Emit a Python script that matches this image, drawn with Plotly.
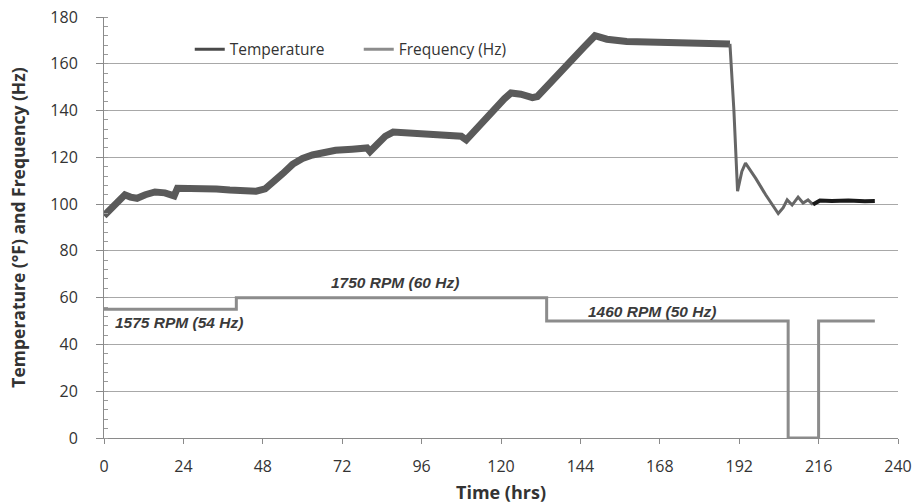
import plotly.graph_objects as go

# ---- data ----
temp_time = [0, 1.5, 3, 4.5, 6.3, 8, 10, 12.5, 15.4, 18.4, 21.2, 22.2, 26, 30, 34, 38,
             42.6, 46, 48.7, 51, 54, 57, 60, 63, 66, 70, 75, 79.5, 80.4, 82, 85, 87.4,
             92, 97, 102, 106, 108, 109.5, 113, 117, 121, 123, 126, 129.5, 131, 135,
             140, 145, 148.4, 152, 158, 165, 172, 180, 186, 189.2, 190.4, 191.5,
             192.8, 193.9, 197, 200, 203.8, 205.3, 206.5, 208, 209.8, 211.3, 212.8,
             214.3, 216.4, 220, 225, 230, 233]
temp_vals = [95, 97, 100, 102, 104, 103, 102.5, 104, 105.2, 104.8, 103.5, 106.8, 106.8,
             107, 106.5, 106, 105.3, 105.5, 106.5, 109, 113, 117, 119.5, 121, 122, 123,
             123.5, 124, 122.5, 125, 129, 130.8, 130.5, 130.3, 130, 129.8, 129, 127.5,
             133, 139, 145, 147.5, 147, 145.5, 146, 152, 159, 167, 172, 170.5, 169.5,
             169.3, 169.2, 169, 168.8, 168.5, 140, 105.5, 114, 117.5, 111, 104, 96,
             98.5, 101.8, 99.6, 103, 100.5, 101.8, 99.8, 101.5, 101.3, 101.5, 101.2,
             101.3]

freq_time = [0, 40, 133.8, 206.8, 216, 233]
freq_vals = [55, 60, 50, 0, 50, 50]

x_ticks = [0, 24, 48, 72, 96, 120, 144, 168, 192, 216, 240]
y_ticks = [0, 20, 40, 60, 80, 100, 120, 140, 160, 180]

ann_text = ["1575 RPM (54 Hz)", "1750 RPM (60 Hz)", "1460 RPM (50 Hz)"]
ann_x = [22.7, 88, 165.7]
ann_y = [49.2, 66.3, 53.9]

# segment split indices for the temperature trace rendering
i_noisy_end = temp_time.index(189.2)
i_tail = temp_time.index(214.3)

fig = go.Figure()

fig.add_trace(go.Scatter(
    x=temp_time[:i_noisy_end + 1], y=temp_vals[:i_noisy_end + 1],
    mode="lines", name="Temperature",
    line=dict(color="#5a5a5a", width=7), legendgroup="t", showlegend=False))
fig.add_trace(go.Scatter(
    x=temp_time[i_noisy_end:i_tail + 1], y=temp_vals[i_noisy_end:i_tail + 1],
    mode="lines", name="Temperature",
    line=dict(color="#666666", width=3), legendgroup="t", showlegend=False))
fig.add_trace(go.Scatter(
    x=temp_time[i_tail:], y=temp_vals[i_tail:],
    mode="lines", name="Temperature",
    line=dict(color="#1a1a1a", width=4), legendgroup="t", showlegend=False))
# legend entries
fig.add_trace(go.Scatter(
    x=[None], y=[None], mode="lines", name="Temperature",
    line=dict(color="#4a4a4a", width=3), legendgroup="t"))
fig.add_trace(go.Scatter(
    x=freq_time, y=freq_vals, mode="lines", name="Frequency (Hz)",
    line=dict(color="#8c8c8c", width=3, shape="hv")))

for t, ax_, ay_ in zip(ann_text, ann_x, ann_y):
    fig.add_annotation(
        x=ax_, y=ay_, text="<b><i>" + t + "</i></b>", showarrow=False,
        font=dict(family="Liberation Sans, Arial", size=15.5, color="#3a3a3a"))

fig.update_layout(
    width=916, height=504,
    margin=dict(l=104, r=18, t=17, b=66, autoexpand=False),
    paper_bgcolor="white", plot_bgcolor="white",
    font=dict(family="Open Sans", color="#333333"),
    legend=dict(orientation="h", x=0.108, y=0.963, xanchor="left", yanchor="top",
                font=dict(size=15.5, color="#333333"), bgcolor="rgba(0,0,0,0)",
                entrywidth=124, traceorder="normal"),
    showlegend=True,
)

fig.update_xaxes(
    range=[0, 240], tickvals=x_ticks, ticktext=[str(v) for v in x_ticks],
    automargin=False,
    showgrid=False, zeroline=False, showline=True, linecolor="#8a8a8a", linewidth=1,
    ticks="outside", ticklen=5, tickcolor="#8a8a8a", ticklabelstandoff=9,
    tickfont=dict(size=16, color="#333333"),
    title=dict(text="<b>Time (hrs)</b>", font=dict(size=18, color="#333333"), standoff=11))

fig.update_yaxes(
    range=[0, 180], tickvals=y_ticks, ticktext=[str(v) for v in y_ticks],
    automargin=False,
    showgrid=True, gridcolor="#a8a8a8", gridwidth=1, zeroline=False,
    showline=True, linecolor="#8a8a8a", linewidth=1,
    ticks="outside", ticklen=7, tickcolor="#8a8a8a", ticklabelstandoff=15,
    minor=dict(dtick=4, ticks="inside", ticklen=4, tickcolor="#9a9a9a", showgrid=False),
    tickfont=dict(size=16, color="#333333"),
    title=dict(text="<b>Temperature (°F) and Frequency (Hz)</b>",
               font=dict(size=17.5, color="#333333"), standoff=20))

fig.write_html("out.html", config={"displayModeBar": False},
               post_script="document.body.style.margin='0';document.body.style.overflow='hidden';")
